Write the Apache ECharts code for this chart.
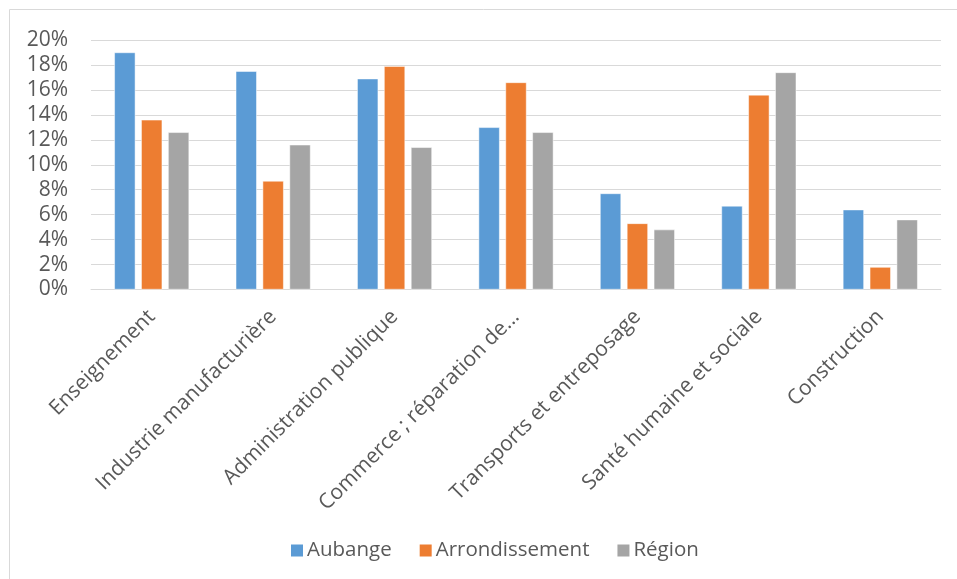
<!DOCTYPE html>
<html>
<head>
<meta charset="utf-8">
<script src="https://cdn.jsdelivr.net/npm/echarts@6/dist/echarts.min.js"></script>
<style>
html,body{margin:0;padding:0;background:#fff;}
#chart{width:957px;height:579px;}
</style>
</head>
<body>
<div id="chart"></div>
<script>
var categories = ["Enseignement", "Industrie manufacturière", "Administration publique", "Commerce ; réparation de...", "Transports et entreposage", "Santé humaine et sociale", "Construction"];
var aubange = [19.0, 17.5, 16.9, 13.0, 7.7, 6.7, 6.4];
var arrondissement = [13.6, 8.7, 17.9, 16.6, 5.3, 15.6, 1.8];
var region = [12.6, 11.6, 11.4, 12.6, 4.8, 17.4, 5.6];
var seriesNames = ["Aubange", "Arrondissement", "Région"];
var colors = ["#5B9BD5", "#ED7D31", "#A5A5A5"];

var chart = echarts.init(document.getElementById('chart'), null, {renderer: 'canvas'});
var font = "'Open Sans', sans-serif";
var seriesData = [aubange, arrondissement, region];
chart.setOption({
  animation: false,
  color: colors,
  graphic: [{
    type: 'rect',
    shape: {x: 9.5, y: 9.5, width: 1000, height: 1000},
    style: {fill: 'none', stroke: '#D9D9D9', lineWidth: 1},
    silent: true,
    z: -1
  }],
  grid: {left: 91, right: 16, top: 40, bottom: 289.5, containLabel: false},
  legend: {
    data: seriesNames,
    left: 284,
    top: 535,
    itemWidth: 14,
    itemHeight: 14,
    itemGap: 26,
    icon: 'rect',
    textStyle: {fontFamily: font, fontSize: 20.5, color: '#595959', padding: [0, 0, 0, -2]}
  },
  xAxis: {
    type: 'category',
    data: categories,
    axisLine: {show: true, lineStyle: {color: '#D9D9D9', width: 1}},
    axisTick: {show: false},
    axisLabel: {rotate: 45, interval: 0, margin: 24, fontFamily: font, fontSize: 21, color: '#595959'}
  },
  yAxis: {
    type: 'value',
    min: 0,
    max: 20,
    interval: 2,
    axisLine: {show: false},
    axisTick: {show: false},
    splitLine: {lineStyle: {color: '#D9D9D9', width: 1}},
    axisLabel: {formatter: '{value}%', margin: 23, fontFamily: font, fontSize: 21, color: '#595959'}
  },
  series: seriesNames.map(function (n, i) {
    return {
      name: n,
      type: 'bar',
      data: seriesData[i],
      barWidth: 21,
      barGap: '28%',
      itemStyle: {color: colors[i], borderColor: '#ffffff', borderWidth: 0.5}
    };
  })
});
</script>
</body>
</html>
